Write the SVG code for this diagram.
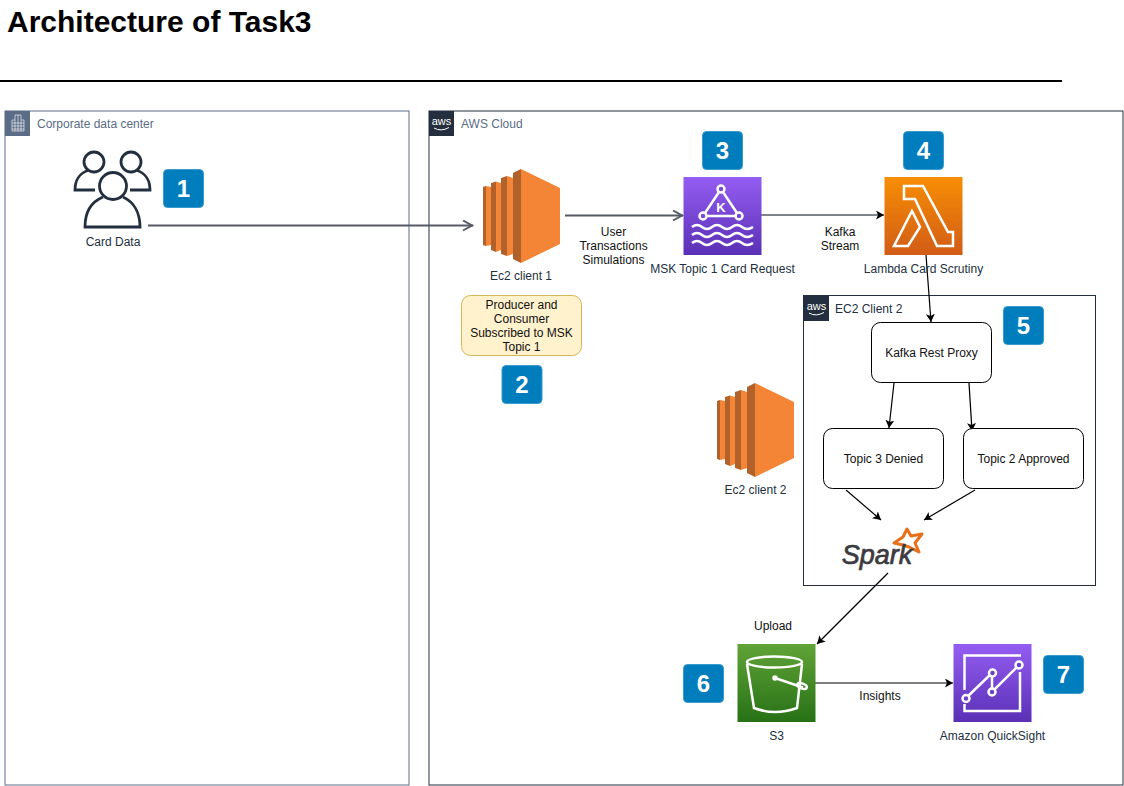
<svg xmlns="http://www.w3.org/2000/svg" width="1124" height="786" viewBox="0 0 1124 786">
<style>
text{font-family:"Liberation Sans",Arial,sans-serif;font-size:12px;fill:#232f3e;text-anchor:middle}
.k{fill:#111}
.l{text-anchor:start;fill:#5a6c86}
.g{fill:#232f3e;text-anchor:start}
.badge rect{fill:#007dbc;stroke:#3a9bcf;stroke-width:1}
.badge text{font-size:24px;font-weight:bold;fill:#fff}
.box{fill:#fff;stroke:#000;stroke-width:1}
.ic{fill:none;stroke:#fff;stroke-width:2.500;stroke-linejoin:miter}
.c{fill:none;stroke-width:1.200;stroke:#000;marker-end:url(#fa)}
.g2{fill:none;stroke:#545b64;stroke-width:2;marker-end:url(#oa)}
</style>
<defs>
<linearGradient id="pu" x1="0" y1="0" x2="0" y2="1"><stop offset="0" stop-color="#945df2"/><stop offset="1" stop-color="#5a30b5"/></linearGradient>
<linearGradient id="or" x1="0" y1="0" x2="0" y2="1"><stop offset="0" stop-color="#f78e04"/><stop offset="1" stop-color="#d05c17"/></linearGradient>
<linearGradient id="gr" x1="0" y1="0" x2="0" y2="1"><stop offset="0" stop-color="#60a337"/><stop offset="1" stop-color="#277116"/></linearGradient>
<marker id="fa" markerUnits="userSpaceOnUse" markerWidth="10" markerHeight="10" refX="8" refY="4.500" orient="auto"><path d="M0 0L8 4.500L0 9L2 4.500Z" fill="#000"/></marker>
<marker id="oa" markerUnits="userSpaceOnUse" markerWidth="14" markerHeight="14" refX="11" refY="6" orient="auto"><path d="M1 1L10 6L1 11" fill="none" stroke="#545b64" stroke-width="2"/></marker>
<g id="ec2i">
<path d="M0 18L3 17V77L0 76Z" fill="#b0622a"/><path d="M3 17L8 18V76L3 77Z" fill="#f58536"/>
<path d="M8 14L13 12.500V83L8 81Z" fill="#b0622a"/><path d="M13 12.500L18 14V81L13 83Z" fill="#f58536"/>
<path d="M18 9L24 7V87L18 85Z" fill="#b0622a"/><path d="M24 7L30 9V85L24 87Z" fill="#f58536"/>
<path d="M30 4L38 0V94L30 90Z" fill="#b0622a"/><path d="M38 0L77 19V75L38 94Z" fill="#f58536"/>
</g>
<g id="awsl">
<rect width="25" height="25" fill="#232f3e"/>
<text x="12.500" y="13.500" style="font-size:11px;fill:#fff">aws</text>
<path d="M5 17Q12 21 20 16.500" fill="none" stroke="#fff" stroke-width="1"/>
</g>
</defs>
<rect width="1124" height="786" fill="#fff"/>
<text x="7" y="32" style="font-size:30px;font-weight:bold;text-anchor:start;fill:#000">Architecture of Task3</text>
<path d="M0 81H1062" stroke="#000" stroke-width="2"/>

<g id="corporate">
<rect x="5" y="111" width="404" height="674" fill="#fff" stroke="#5a6c86" stroke-width="1"/>
<rect x="5" y="111" width="25" height="25" fill="#5a6c86"/>
<path d="M12 131V120H15V115H21V120H24V131ZM12 123H24M12 126H24M12 129H24M15 120V131M18 115V131M21 120V131" fill="none" stroke="#fff" stroke-width=".6"/>
<text class="l" x="37" y="128">Corporate data center</text>
</g>
<g id="aws-cloud">
<rect x="429" y="111" width="694" height="674" fill="#fff" stroke="#232f3e" stroke-width="1"/>
<use href="#awsl" x="429" y="111"/>
<text class="l" x="461" y="128">AWS Cloud</text>
</g>
<g id="ec2-client-2-group">
<rect x="803.500" y="295.500" width="292" height="290" fill="#fff" stroke="#232f3e" stroke-width="1"/>
<use href="#awsl" x="804" y="296"/>
<text class="g" x="835" y="313">EC2 Client 2</text>
</g>

<g id="connectors">
<path class="g2" d="M148 225.500H473"/>
<path class="g2" d="M565 215.500H683"/>
<path class="c" style="stroke:#545b64;stroke-width:1.500" d="M761 215H884"/>
<path class="c" d="M926 255L931 322"/>
<path class="c" d="M894 383L889 428"/>
<path class="c" d="M969 383L972 431"/>
<path class="c" d="M846 490L881 520"/>
<path class="c" d="M975 490L924 520"/>
<path class="c" d="M888 573L817 644"/>
<path class="c" d="M815 683H953"/>
<text class="k" x="613.500" y="236">User</text>
<text class="k" x="613.500" y="250">Transactions</text>
<text class="k" x="613.500" y="264">Simulations</text>
<text class="k" x="840" y="236">Kafka</text>
<text class="k" x="840" y="250">Stream</text>
<text class="k" x="773" y="630">Upload</text>
<text class="k" x="880" y="700">Insights</text>
</g>

<g id="card-data">
<g fill="none" stroke="#232f3e" stroke-width="2.800">
<circle cx="94" cy="162" r="10"/><circle cx="131" cy="162" r="10"/><circle cx="113" cy="186" r="13.500"/>
<path d="M95 190H75C75 180 80 173 88 170.500M130 190H150C150 180 145 173 137 170.500M103 197C91 202 85 213 85 227H140C140 213 134 202 123 197"/>
</g>
<text x="113" y="246">Card Data</text>
</g>
<g id="ec2-client-1"><use href="#ec2i" x="483" y="169"/><text x="521" y="280">Ec2 client 1</text></g>
<g id="note"><rect x="461.500" y="295.500" width="120" height="60" rx="9" fill="#fff2cc" stroke="#d6b656"/>
<text class="k" x="521.500" y="309">Producer and</text><text class="k" x="521.500" y="323">Consumer</text><text class="k" x="521.500" y="337">Subscribed to MSK</text><text class="k" x="521.500" y="351">Topic 1</text></g>
<g id="msk"><rect x="683.500" y="177" width="78" height="78" fill="url(#pu)"/>
<g class="ic"><path d="M721 189L703 216H739Z"/>
<path d="M692 227Q697 223 702 227T712 227T722 227T732 227T742 227T753 227M692 235Q697 231 702 235T712 235T722 235T732 235T742 235T753 235M692 243Q697 239 702 243T712 243T722 243T732 243T742 243T753 243"/></g>
<g fill="#7b4ad8" stroke="#fff" stroke-width="2.500"><circle cx="721" cy="189" r="3.500"/><circle cx="703" cy="216" r="3.500"/><circle cx="739" cy="216" r="3.500"/></g>
<text x="721" y="212" style="font-size:13px;font-weight:bold;fill:#fff">K</text>
<text x="722.500" y="273">MSK Topic 1 Card Request</text></g>
<g id="lambda"><rect x="884.500" y="177" width="78" height="78" fill="url(#or)"/>
<path class="ic" d="M904 186H923L948 232H953V246H937L915 199H904ZM912 211L920 227L908 246H894Z"/>
<text x="923.500" y="273">Lambda Card Scrutiny</text></g>
<g id="kafka-rest-proxy"><rect class="box" x="871.500" y="322.500" width="120" height="60" rx="9"/><text class="k" x="931.500" y="357">Kafka Rest Proxy</text></g>
<g id="topic-3"><rect class="box" x="823.500" y="428.500" width="120" height="60" rx="9"/><text class="k" x="883.500" y="463">Topic 3 Denied</text></g>
<g id="topic-2"><rect class="box" x="963.500" y="428.500" width="120" height="60" rx="9"/><text class="k" x="1023.500" y="463">Topic 2 Approved</text></g>
<g id="ec2-client-2"><use href="#ec2i" x="717" y="383"/><text x="755.500" y="494">Ec2 client 2</text></g>
<g id="spark">
<path d="M907 529L911 536L922 534L915 543L919 552L909 547L903 545L894 543L903 537Z" fill="#fff" stroke="#e8701a" stroke-width="3" stroke-linejoin="round"/>
<text x="877" y="564" style="font-size:27px;font-style:italic;fill:#3c3a3e;stroke:#3c3a3e;stroke-width:.7">Spark</text>
</g>
<g id="s3"><rect x="737.500" y="644" width="78" height="78" fill="url(#gr)"/>
<g class="ic"><ellipse cx="774.500" cy="662" rx="27.500" ry="5.500"/><path d="M747 664L754 708Q775 716 797 708L802 664"/><path d="M775 678L803 687.500"/><circle cx="775" cy="678" r="1.500"/><ellipse cx="802" cy="686" rx="5" ry="2.500" transform="rotate(20 802 686)"/></g>
<text x="776.500" y="740">S3</text></g>
<g id="quicksight"><rect x="953.500" y="644" width="78" height="78" fill="url(#pu)"/>
<g class="ic"><path d="M1021 655.500H964.500V690M964.500 704V711H1020V672"/><path d="M966 698L992 673V692L1019 665"/></g>
<g fill="#6e3fc8" stroke="#fff" stroke-width="2.500"><circle cx="966" cy="698.500" r="3.500"/><circle cx="992.500" cy="673" r="3.500"/><circle cx="992" cy="692" r="3.500"/><circle cx="1019" cy="665" r="3.500"/></g>
<text x="992.500" y="740">Amazon QuickSight</text></g>

<g id="b1" class="badge"><rect x="163.500" y="169.500" width="40" height="38" rx="4"/><text x="183.500" y="197">1</text></g>
<g id="b2" class="badge"><rect x="502" y="365.500" width="40" height="38" rx="4"/><text x="522" y="393">2</text></g>
<g id="b3" class="badge"><rect x="702.500" y="131.500" width="40" height="38" rx="4"/><text x="722.500" y="159">3</text></g>
<g id="b4" class="badge"><rect x="903.500" y="131.500" width="40" height="38" rx="4"/><text x="923.500" y="159">4</text></g>
<g id="b5" class="badge"><rect x="1003.500" y="306.500" width="40" height="38" rx="4"/><text x="1023.500" y="334">5</text></g>
<g id="b6" class="badge"><rect x="683.500" y="664.500" width="40" height="38" rx="4"/><text x="703.500" y="692">6</text></g>
<g id="b7" class="badge"><rect x="1043.500" y="655.500" width="40" height="38" rx="4"/><text x="1063.500" y="683">7</text></g>
</svg>
